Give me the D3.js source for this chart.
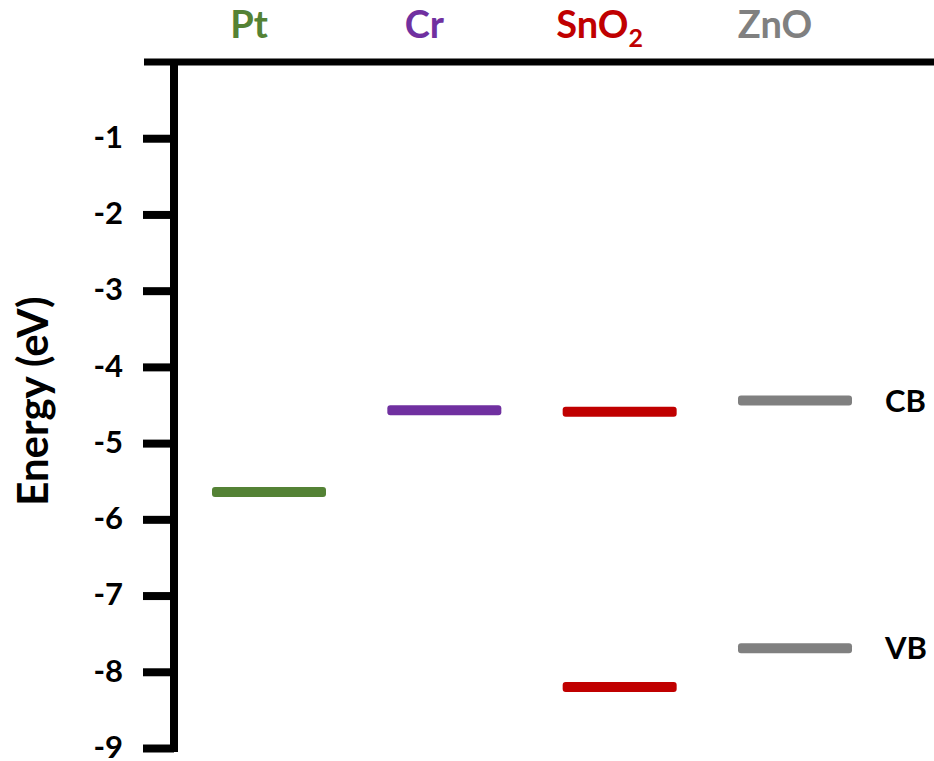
<!DOCTYPE html>
<html>
<head>
<meta charset="utf-8">
<script src="https://cdn.jsdelivr.net/npm/d3@7"></script>
<style>
  body { margin: 0; background: #fff; }
  text { font-family: Lato, "Open Sans", sans-serif; font-weight: 700; }
</style>
</head>
<body>
<div id="chart"></div>
<script>
// materials across the top and their colours
const materials = ["Pt", "Cr", "SnO2", "ZnO"];
const colors = ["#548235", "#7030a0", "#c00000", "#808080"];

// energy levels (eV), one entry per drawn level
const levelMaterial = ["Pt", "Cr", "SnO2", "SnO2", "ZnO", "ZnO"];
const levelEnergy = [-5.64, -4.57, -4.59, -8.20, -4.44, -7.69];
const levelBand = ["", "", "CB", "VB", "CB", "VB"];

// y axis ticks
const yTicks = [-1, -2, -3, -4, -5, -6, -7, -8, -9];

const width = 934, height = 761;

const svg = d3.select("#chart")
    .append("svg")
    .attr("width", width)
    .attr("height", height);

const y = d3.scaleLinear()
    .domain([0, -9])
    .range([62, 748]);

const x = d3.scalePoint()
    .domain(materials)
    .range([269, 795]);

const color = d3.scaleOrdinal()
    .domain(materials)
    .range(colors);

const axisX = 174;

// top border line
svg.append("line")
    .attr("x1", 144)
    .attr("x2", width)
    .attr("y1", y(0))
    .attr("y2", y(0))
    .attr("stroke", "#000")
    .attr("stroke-width", 7);

// y axis
const yAxis = svg.append("g")
    .attr("transform", `translate(${axisX},0)`)
    .call(d3.axisLeft(y)
        .tickValues(yTicks)
        .tickSize(31)
        .tickSizeOuter(0)
        .tickPadding(20)
        .tickFormat(d => d3.format("d")(d).replace("−", "-")));

yAxis.select(".domain")
    .attr("d", `M0,${y(0) - 3}V${y(-9) + 4}`)
    .attr("stroke", "#000")
    .attr("stroke-width", 8);

yAxis.selectAll(".tick line")
    .attr("stroke", "#000")
    .attr("stroke-width", 8);

yAxis.selectAll(".tick text")
    .attr("fill", "#000")
    .attr("dy", "0.3em")
    .style("font-size", "31px")
    .style("font-family", "Lato, sans-serif")
    .style("font-weight", 700);

// y axis title
svg.append("text")
    .attr("transform", `translate(48,${y(-4.45)}) rotate(-90)`)
    .attr("text-anchor", "middle")
    .style("font-size", "42px")
    .text("Energy (eV)");

// material labels on top
const labels = svg.selectAll(".mat-label")
    .data(materials)
    .join("text")
    .attr("class", "mat-label")
    .attr("x", d => x(d) - 20)
    .attr("y", 38)
    .attr("text-anchor", "middle")
    .attr("fill", d => color(d))
    .style("font-size", "38px");

labels.each(function (d) {
    const t = d3.select(this);
    if (d === "SnO2") {
        t.append("tspan").text("SnO");
        t.append("tspan")
            .attr("dy", 9)
            .style("font-size", "25px")
            .text("2");
    } else {
        t.text(d);
    }
});

// energy level bars
const levels = levelEnergy.map((e, i) => ({
    material: levelMaterial[i],
    energy: e,
    band: levelBand[i]
}));

const barW = 114, barH = 10;

svg.selectAll(".level")
    .data(levels)
    .join("rect")
    .attr("class", "level")
    .attr("x", d => x(d.material) - barW / 2)
    .attr("y", d => y(d.energy) - barH / 2)
    .attr("width", barW)
    .attr("height", barH)
    .attr("rx", 3)
    .attr("fill", d => color(d.material));

// CB / VB labels next to the last material
svg.selectAll(".band-label")
    .data(levels.filter(d => d.material === "ZnO"))
    .join("text")
    .attr("class", "band-label")
    .attr("x", d => x(d.material) + barW / 2 + 33)
    .attr("y", d => y(d.energy))
    .attr("dy", "0.36em")
    .attr("fill", "#000")
    .style("font-size", "31px")
    .text(d => d.band);
</script>
</body>
</html>
